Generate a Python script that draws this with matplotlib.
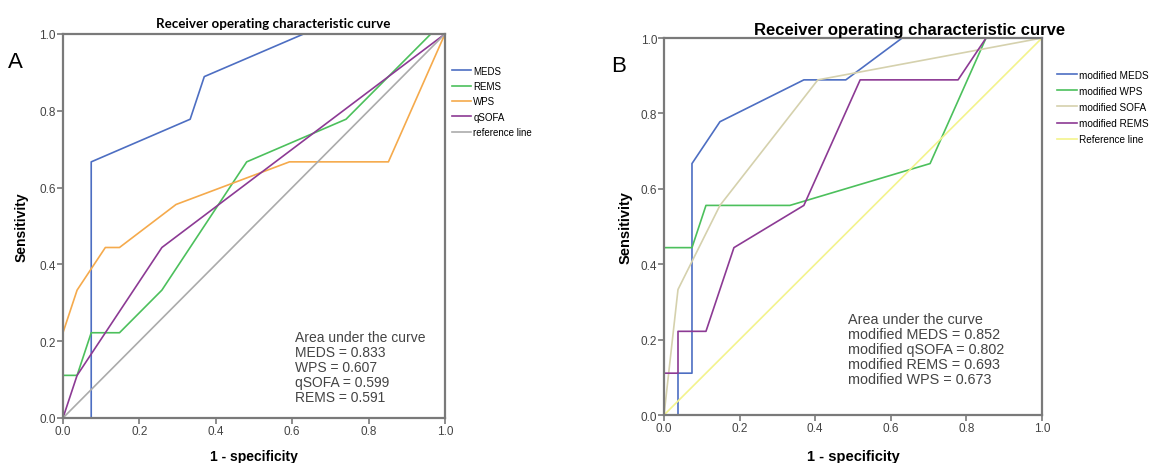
import matplotlib
matplotlib.use("Agg")
import matplotlib.pyplot as plt

# Panel A curves (1 - specificity, sensitivity)
meds_x = [0, 0.074, 0.074, 0.333, 0.370, 0.630, 1.0]
meds_y = [0, 0, 0.667, 0.778, 0.889, 1.0, 1.0]
rems_x = [0, 0, 0.037, 0.074, 0.148, 0.259, 0.481, 0.741, 0.963, 1.0]
rems_y = [0, 0.111, 0.111, 0.222, 0.222, 0.333, 0.667, 0.778, 1.0, 1.0]
wps_x = [0, 0, 0.037, 0.111, 0.148, 0.296, 0.593, 0.852, 1.0]
wps_y = [0, 0.222, 0.333, 0.444, 0.444, 0.556, 0.667, 0.667, 1.0]
qsofa_x = [0, 0.037, 0.259, 1.0]
qsofa_y = [0, 0.111, 0.444, 1.0]

# Panel B curves
mmeds_x = [0, 0.037, 0.037, 0.074, 0.074, 0.148, 0.370, 0.481, 0.630, 1.0]
mmeds_y = [0, 0, 0.111, 0.111, 0.667, 0.778, 0.889, 0.889, 1.0, 1.0]
mwps_x = [0, 0, 0.074, 0.111, 0.333, 0.704, 0.852, 1.0]
mwps_y = [0, 0.444, 0.444, 0.556, 0.556, 0.667, 1.0, 1.0]
msofa_x = [0, 0.037, 0.148, 0.407, 1.0]
msofa_y = [0, 0.333, 0.556, 0.889, 1.0]
mrems_x = [0, 0, 0.037, 0.037, 0.111, 0.185, 0.370, 0.519, 0.778, 0.852, 1.0]
mrems_y = [0, 0.111, 0.111, 0.222, 0.222, 0.444, 0.556, 0.889, 0.889, 1.0, 1.0]

ref = [0, 1]

auc_a = ["Area under the curve", "MEDS = 0.833", "WPS = 0.607",
         "qSOFA = 0.599", "REMS = 0.591"]
auc_b = ["Area under the curve", "modified MEDS = 0.852",
         "modified qSOFA = 0.802", "modified REMS = 0.693",
         "modified WPS = 0.673"]

plt.rcParams["font.family"] = ["Liberation Sans", "DejaVu Sans"]

fig = plt.figure(figsize=(11.53, 4.64), dpi=100)
ax_a = fig.add_axes([0.0546, 0.097, 0.3313, 0.8276])
ax_b = fig.add_axes([0.5759, 0.1034, 0.3278, 0.8125])

blue = "#4d6ec2"
green = "#4cc05c"
orange = "#f5aa4c"
purple = "#8c3a94"
grey = "#ababab"
tan = "#d5d1ad"
yellow = "#f3f38c"

lw = 1.2
ax_a.plot(meds_x, meds_y, color=blue, lw=lw, label="MEDS")
ax_a.plot(rems_x, rems_y, color=green, lw=lw, label="REMS")
ax_a.plot(wps_x, wps_y, color=orange, lw=lw, label="WPS")
ax_a.plot(qsofa_x, qsofa_y, color=purple, lw=lw, label="qSOFA")
ax_a.plot(ref, ref, color=grey, lw=lw, label="reference line")

ax_b.plot(mmeds_x, mmeds_y, color=blue, lw=lw, label="modified MEDS")
ax_b.plot(mwps_x, mwps_y, color=green, lw=lw, label="modified WPS")
ax_b.plot(msofa_x, msofa_y, color=tan, lw=lw, label="modified SOFA")
ax_b.plot(mrems_x, mrems_y, color=purple, lw=lw, label="modified REMS")
ax_b.plot(ref, ref, color=yellow, lw=lw, label="Reference line")

for ax in (ax_a, ax_b):
    ax.set_xlim(0, 1)
    ax.set_ylim(0, 1)
    ax.set_xticks([0, 0.2, 0.4, 0.6, 0.8, 1.0])
    ax.set_yticks([0, 0.2, 0.4, 0.6, 0.8, 1.0])
    ax.xaxis.set_major_formatter(plt.FormatStrFormatter("%.1f"))
    ax.yaxis.set_major_formatter(plt.FormatStrFormatter("%.1f"))
    for s in ax.spines.values():
        s.set_color("#7a7a7a")
        s.set_linewidth(1.6)
    ax.tick_params(direction="out", length=4, width=1.2, color="#7a7a7a",
                   labelsize=8.5, labelcolor="#444444", pad=1)

ax_a.set_xlabel("1 - specificity", fontsize=10, fontweight="bold", labelpad=9)
ax_a.set_ylabel("Sensitivity", fontsize=10, fontweight="bold", labelpad=8)
ax_b.set_xlabel("1 - specificity", fontsize=10.5, fontweight="bold", labelpad=11)
ax_b.set_ylabel("Sensitivity", fontsize=10.5, fontweight="bold", labelpad=6)

ax_a.set_title("Receiver operating characteristic curve", fontsize=9.6,
               fontweight="bold", x=0.55, pad=5,
               family=["Lato", "DejaVu Sans"])
ax_b.set_title("Receiver operating characteristic curve", fontsize=12,
               fontweight="bold", x=0.65, pad=3)

ax_a.legend(loc="upper left", bbox_to_anchor=(1.0, 0.935), frameon=False,
            fontsize=7, handlelength=2.0, handletextpad=0.2,
            labelspacing=0.55, borderaxespad=0.3)
ax_b.legend(loc="upper left", bbox_to_anchor=(1.02, 0.935), frameon=False,
            fontsize=7.2, handlelength=2.0, handletextpad=0.2,
            labelspacing=0.62, borderaxespad=0.3)

ax_a.text(0.607, 0.229, "\n".join(auc_a), transform=ax_a.transAxes,
          fontsize=10, color="#444444", va="top", linespacing=1.08)
ax_b.text(0.487, 0.273, "\n".join(auc_b), transform=ax_b.transAxes,
          fontsize=10.4, color="#444444", va="top", linespacing=1.09)

fig.text(8 / 1153, 1 - 68 / 464, "A", fontsize=16)
fig.text(611 / 1153, 1 - 72 / 464, "B", fontsize=16)

fig.savefig("out.png", dpi=100)
